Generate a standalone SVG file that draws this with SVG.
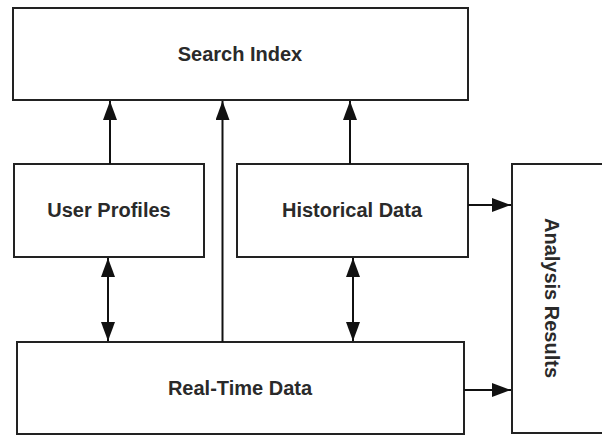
<svg xmlns="http://www.w3.org/2000/svg" width="602" height="435" viewBox="0 0 602 435">
<style>
.box{fill:#fff;stroke:#222;stroke-width:2}
.lbl{font-family:"Liberation Sans",Arial,sans-serif;font-weight:bold;font-size:20px;fill:#2a2a2a;text-anchor:middle;dominant-baseline:central}
.c{stroke:#111;stroke-width:2;fill:none}
</style>
<defs>
<marker id="ah" markerUnits="userSpaceOnUse" markerWidth="19" markerHeight="14" refX="19" refY="7" orient="auto-start-reverse">
<path d="M0,0 L19,7 L0,14 z" fill="#111"/>
</marker>
</defs>
<rect width="602" height="435" fill="#fff"/>
<g id="search-index"><rect class="box" x="13" y="8" width="455" height="92"/><text class="lbl" x="240" y="54">Search Index</text></g>
<g id="user-profiles"><rect class="box" x="14" y="164" width="190" height="93"/><text class="lbl" x="109" y="210">User Profiles</text></g>
<g id="historical-data"><rect class="box" x="237" y="164" width="231" height="93"/><text class="lbl" x="352" y="210">Historical Data</text></g>
<g id="real-time-data"><rect class="box" x="17" y="342" width="447" height="92"/><text class="lbl" x="240" y="388">Real-Time Data</text></g>
<g id="analysis-results"><rect class="box" x="512" y="164" width="100" height="269"/><text class="lbl" transform="translate(552,298) rotate(90)">Analysis Results</text></g>
<g id="connectors">
<line class="c" x1="110" y1="164" x2="110" y2="101" marker-end="url(#ah)"/>
<line class="c" x1="222.5" y1="342" x2="222.5" y2="101" marker-end="url(#ah)"/>
<line class="c" x1="350" y1="164" x2="350" y2="101" marker-end="url(#ah)"/>
<line class="c" x1="108" y1="258" x2="108" y2="341" marker-start="url(#ah)" marker-end="url(#ah)"/>
<line class="c" x1="353" y1="258" x2="353" y2="341" marker-start="url(#ah)" marker-end="url(#ah)"/>
<line class="c" x1="468" y1="205" x2="511" y2="205" marker-end="url(#ah)"/>
<line class="c" x1="464" y1="390" x2="511" y2="390" marker-end="url(#ah)"/>
</g>
</svg>
